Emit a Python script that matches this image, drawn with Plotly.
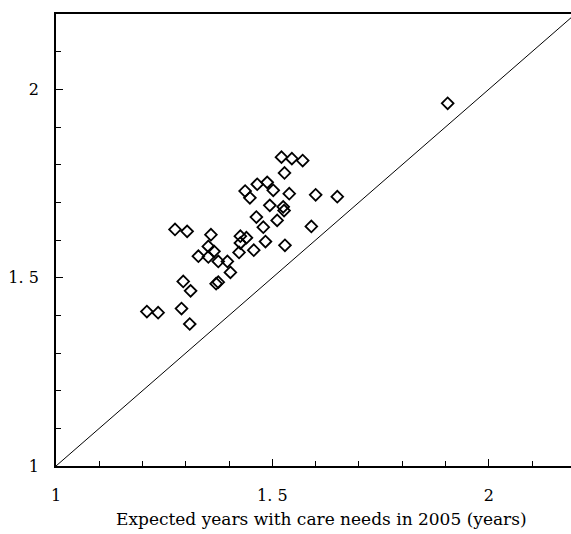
import plotly.graph_objects as go

years_2005 = [1.905, 1.521, 1.545, 1.570, 1.528, 1.465, 1.488, 1.437, 1.448, 1.502,
              1.539, 1.600, 1.650, 1.494, 1.525, 1.527, 1.463, 1.511, 1.479, 1.590,
              1.275, 1.303, 1.358, 1.426, 1.440, 1.352, 1.365, 1.329, 1.352, 1.426,
              1.423, 1.457, 1.484, 1.529, 1.375, 1.396, 1.403, 1.375, 1.370, 1.294,
              1.311, 1.290, 1.309, 1.210, 1.236]
years_other = [1.963, 1.820, 1.816, 1.811, 1.778, 1.748, 1.753, 1.730, 1.712, 1.732,
               1.723, 1.720, 1.715, 1.692, 1.688, 1.678, 1.661, 1.652, 1.634, 1.636,
               1.628, 1.623, 1.614, 1.610, 1.606, 1.583, 1.570, 1.557, 1.555, 1.592,
               1.567, 1.573, 1.596, 1.586, 1.543, 1.543, 1.514, 1.488, 1.484, 1.490,
               1.465, 1.418, 1.377, 1.410, 1.407]
diag = [1.0, 2.2]
tick_vals = [1, 1.5, 2]
tick_text = ["1", "1. 5", "2"]
x_title = "Expected years with care needs in 2005 (years)"

FONT = "DejaVu Serif"

fig = go.Figure()
fig.add_trace(go.Scatter(x=diag, y=diag, mode="lines",
                         line=dict(color="black", width=1), showlegend=False,
                         hoverinfo="skip"))
fig.add_trace(go.Scatter(x=years_2005, y=years_other, mode="markers",
                         marker=dict(symbol="diamond-open", size=9, color="black",
                                     line=dict(color="black", width=1.8)),
                         showlegend=False))

axis_common = dict(
    tickvals=tick_vals, ticktext=tick_text, ticks="inside", ticklen=7,
    tickwidth=1.2, tickcolor="black", showgrid=False, zeroline=False,
    showline=True, linecolor="black", linewidth=1.8,
    tickfont=dict(family=FONT, size=16, color="black"),
    minor=dict(dtick=0.1, tick0=1, ticks="inside", ticklen=5, tickwidth=1,
               tickcolor="black", showgrid=False),
)
fig.update_xaxes(range=[1, 2.19], mirror=True, ticklabelstandoff=14, **axis_common)
fig.update_yaxes(range=[1, 2.2], mirror=False, ticklabelstandoff=12, **axis_common)

fig.add_annotation(text=x_title, xref="paper", yref="paper", x=0.5165, y=-0.118,
                   xanchor="center", yanchor="middle", showarrow=False,
                   font=dict(family=FONT, size=17, color="black"))

fig.update_layout(width=571, height=534, margin=dict(l=56, r=0, t=14, b=68),
                  plot_bgcolor="white", paper_bgcolor="white")

fig.write_html("out.html", config={"displayModeBar": False},
               post_script="document.body.style.margin='0';document.body.style.overflow='hidden';")
